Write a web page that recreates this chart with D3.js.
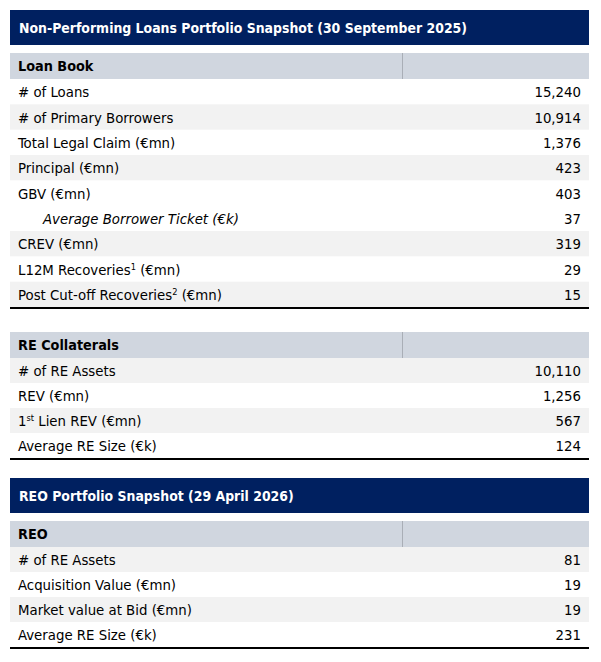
<!DOCTYPE html>
<html>
<head>
<meta charset="utf-8">
<script src="https://cdn.jsdelivr.net/npm/d3@7"></script>
<style>
  html, body { margin: 0; padding: 0; background: #ffffff; }
  svg text { font-family: "Liberation Sans Narrow", "DejaVu Sans Condensed", "Roboto", sans-serif; }
</style>
</head>
<body>
<svg id="chart" width="601" height="662"></svg>
<script>
// ---- DATA ----
const title1 = "Non-Performing Loans Portfolio Snapshot (30 September 2025)";
const title2 = "REO Portfolio Snapshot (29 April 2026)";

const loanBookHeader = "Loan Book";
const loanBookLabels = [
  "# of Loans",
  "# of Primary Borrowers",
  "Total Legal Claim (€mn)",
  "Principal (€mn)",
  "GBV (€mn)",
  "Average Borrower Ticket (€k)",
  "CREV (€mn)",
  "L12M Recoveries^1 (€mn)",
  "Post Cut-off Recoveries^2 (€mn)"
];
const loanBookValues = ["15,240", "10,914", "1,376", "423", "403", "37", "319", "29", "15"];

const reHeader = "RE Collaterals";
const reLabels = ["# of RE Assets", "REV (€mn)", "1^st Lien REV (€mn)", "Average RE Size (€k)"];
const reValues = ["10,110", "1,256", "567", "124"];

const reoHeader = "REO";
const reoLabels = ["# of RE Assets", "Acquisition Value (€mn)", "Market value at Bid (€mn)", "Average RE Size (€k)"];
const reoValues = ["81", "19", "19", "231"];

const subRows = ["Average Borrower Ticket (€k)"];

// ---- STYLE / LAYOUT ----
const NAVY = "#002060", HEAD_GRAY = "#d0d6df", BAND = "#f2f2f2";
const X0 = 10, X1 = 589, DIVIDER = 402, LABEL_X = 18, VALUE_X = 581;
const FS = 14.8, FS_TITLE = 13.9, FS_HEAD = 14.3;

const svg = d3.select("#chart");
const x = d3.scaleLinear().domain([0, 1]).range([X0, X1]);

function drawTitle(text, y0, y1) {
  svg.append("rect").attr("x", x(0)).attr("y", y0).attr("width", x(1) - x(0)).attr("height", y1 - y0).attr("fill", NAVY);
  svg.append("text").attr("x", LABEL_X + 1).attr("y", (y0 + y1) / 2).attr("dy", "0.38em")
    .attr("fill", "#ffffff").attr("font-weight", "bold").attr("font-size", FS_TITLE).text(text);
}

function addLabel(sel, label) {
  const m = label.match(/^(.*?)\^(\w+)(.*)$/);
  if (!m) { sel.text(label); return; }
  sel.append("tspan").text(m[1]);
  sel.append("tspan").attr("font-size", FS * 0.62).attr("dy", "-0.55em").text(m[2]);
  sel.append("tspan").attr("dy", "0.34em").text(m[3]);
}

function drawTable(header, labels, values, yHead0, yHead1, yEnd, bandStart) {
  svg.append("rect").attr("x", x(0)).attr("y", yHead0).attr("width", x(1) - x(0)).attr("height", yHead1 - yHead0).attr("fill", HEAD_GRAY);
  svg.append("line").attr("x1", DIVIDER + 0.5).attr("x2", DIVIDER + 0.5).attr("y1", yHead0).attr("y2", yHead1)
    .attr("stroke", "#a9aeb6").attr("stroke-width", 1);
  svg.append("text").attr("x", LABEL_X).attr("y", (yHead0 + yHead1) / 2).attr("dy", "0.38em")
    .attr("font-weight", "bold").attr("font-size", FS_HEAD).attr("fill", "#000").text(header);

  const y = d3.scaleBand().domain(labels).range([yHead1, yEnd]);
  let idx = -1;
  const rows = labels.map((l, i) => {
    const sub = subRows.includes(l);
    if (!sub) idx++;
    return { label: l, value: values[i], sub, band: (idx + bandStart) % 2 === 1 };
  });
  const g = svg.append("g").selectAll("g").data(rows).join("g");
  g.filter(d => d.band).append("rect")
    .attr("x", x(0)).attr("y", d => y(d.label)).attr("width", x(1) - x(0)).attr("height", y.bandwidth()).attr("fill", BAND);
  g.append("text").attr("x", d => d.sub ? LABEL_X + 25 : LABEL_X)
    .attr("y", d => y(d.label) + y.bandwidth() / 2).attr("dy", "0.38em")
    .attr("font-size", FS).attr("fill", "#000")
    .attr("font-style", d => d.sub ? "italic" : "normal")
    .each(function (d) { addLabel(d3.select(this), d.label); });
  g.append("text").attr("x", VALUE_X).attr("text-anchor", "end")
    .attr("y", d => y(d.label) + y.bandwidth() / 2).attr("dy", "0.38em")
    .attr("font-size", FS).attr("fill", "#000").text(d => d.value);
  svg.append("rect").attr("x", x(0)).attr("y", yEnd).attr("width", x(1) - x(0)).attr("height", 2).attr("fill", "#000");
}

drawTitle(title1, 10, 45);
drawTable(loanBookHeader, loanBookLabels, loanBookValues, 53, 79, 307, 0);
drawTable(reHeader, reLabels, reValues, 332, 358, 458, 1);
drawTitle(title2, 478, 513);
drawTable(reoHeader, reoLabels, reoValues, 521, 547, 647, 1);
</script>
</body>
</html>
